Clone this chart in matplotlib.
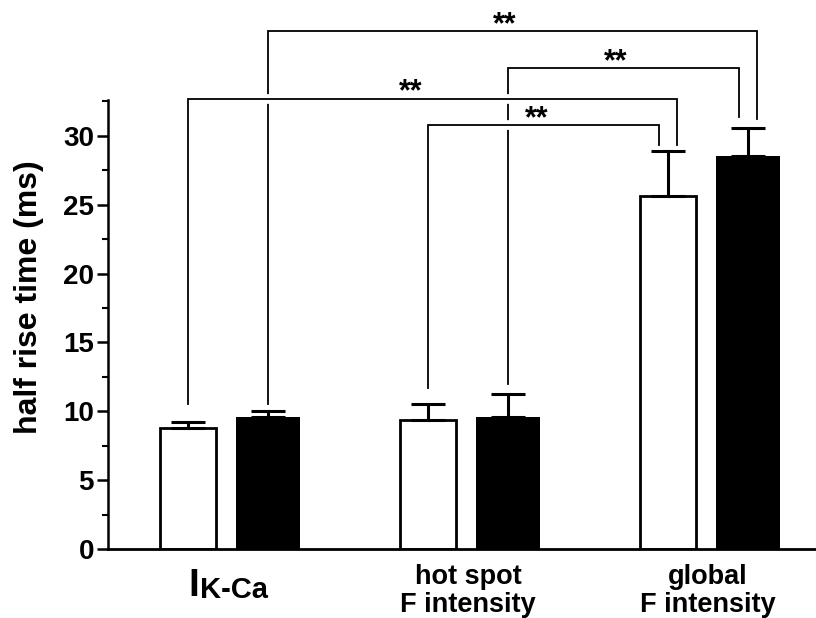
import numpy as np
import matplotlib
matplotlib.use('Agg')
import matplotlib.pyplot as plt
import matplotlib.patheffects as pe
from matplotlib.ticker import MultipleLocator

plt.rcParams['font.family'] = ['Liberation Sans', 'DejaVu Sans']
plt.rcParams['font.weight'] = 'bold'

# data
groups = ['', 'hot spot\nF intensity', 'global\nF intensity']
white_vals = [8.8, 9.4, 25.6]
white_err = [0.45, 1.1, 3.3]
black_vals = [9.6, 9.6, 28.5]
black_err = [0.4, 1.65, 2.1]

# significance brackets: (from bar, to bar, line height, left foot, right foot)
# bars indexed as (group, 0=white / 1=black)
brackets = [
    ((0, 1), (2, 1), 37.6, 10.5, 31.2),
    ((1, 1), (2, 1), 34.9, 12.0, 31.4),
    ((0, 0), (2, 0), 32.7, 10.5, 29.3),
    ((1, 0), (2, 0), 30.8, 11.7, 29.3),
]
star_x = [1.154, 1.617, 0.7625, 1.2875]

fig = plt.figure(figsize=(8.16, 6.18), dpi=100)
ax = fig.add_axes([108 / 816, 69 / 618, 708 / 816, 449 / 618])

x = np.arange(len(groups))
off = 1 / 6
ax.bar(x - off, white_vals, width=0.232, color='white', edgecolor='black',
       linewidth=2, zorder=2)
ax.bar(x + off, black_vals, width=0.267, color='black', edgecolor='black',
       linewidth=0, zorder=2)
ax.errorbar(x - off, white_vals, yerr=[np.zeros(3), white_err], fmt='none',
            ecolor='black', elinewidth=2.2, capsize=12.5, capthick=2.2, zorder=3)
ax.errorbar(x + off, black_vals, yerr=[np.zeros(3), black_err], fmt='none',
            ecolor='black', elinewidth=2.2, capsize=12.5, capthick=2.2, zorder=3)

leg_shift = 9 / 240
for i, ((g1, s1), (g2, s2), h, y1, y2) in enumerate(brackets):
    xa = g1 + (2 * s1 - 1) * off
    xb = g2 + (2 * s2 - 1) * off
    xb = xb + leg_shift if i in (0, 2) else xb - leg_shift
    ax.plot([xa, xa, xb, xb], [y1, h, h, y2], color='black', lw=1.3,
            solid_joinstyle='miter', clip_on=False, zorder=4 + i,
            path_effects=[pe.Stroke(linewidth=7, foreground='white'), pe.Normal()])
    ax.text(star_x[i], h - 0.15, '**', ha='center', va='baseline',
            fontsize=22, fontweight='bold', clip_on=False, zorder=10)

ax.set_xlim(-0.5, 2.45)
ax.set_ylim(0, 32.6)
ax.yaxis.set_major_locator(MultipleLocator(5))
ax.yaxis.set_minor_locator(MultipleLocator(2.5))
ax.set_xticks(x)
ax.set_xticklabels(groups, fontsize=19.5, fontweight='bold', linespacing=1.1)
ax.tick_params(axis='x', length=0, pad=11)
ax.tick_params(axis='y', which='major', length=8, width=1.8, pad=2,
               labelsize=20)
ax.tick_params(axis='y', which='minor', length=4.5, width=1.5)
for lab in ax.get_yticklabels():
    lab.set_fontweight('bold')
ax.set_ylabel('half rise time (ms)', fontsize=23, fontweight='bold')
ax.yaxis.set_label_coords(-0.09, 0.561)

for side in ('top', 'right'):
    ax.spines[side].set_visible(False)
ax.spines['left'].set_linewidth(1.8)
ax.spines['bottom'].set_linewidth(2)

# I with K-Ca subscript for the first group
fig.text(188 / 816, 1 - 596 / 618, 'I', fontsize=28, fontweight='bold',
         va='baseline', ha='left')
fig.text(200 / 816, 1 - 598 / 618, 'K-Ca', fontsize=21, fontweight='bold',
         va='baseline', ha='left')

fig.savefig('out.png', dpi=100)
